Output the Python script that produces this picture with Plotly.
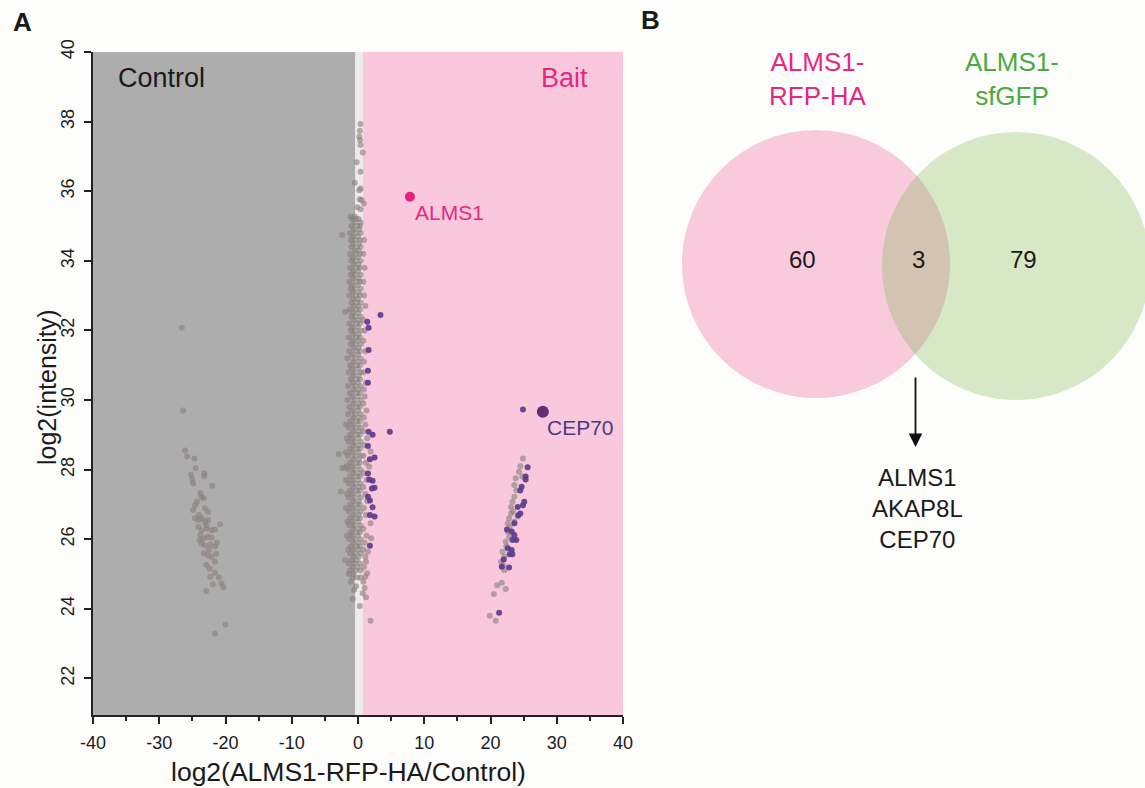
import numpy as np
import plotly.graph_objects as go

W, H = 1145, 788
FONT = "Liberation Sans, Arial, sans-serif"

# ---------------- Panel A data ----------------
# control-only proteins (left cluster)
left_points = [
    (-26.6, 32.08), (-26.4, 29.70), (-26.1, 28.55), (-25.8, 28.38), (-24.7, 28.32), (-24.5, 28.04),
    (-23.2, 27.89), (-23.2, 27.82), (-25.2, 27.85), (-25.0, 27.72), (-24.9, 27.60), (-22.0, 27.54),
    (-23.8, 27.33), (-23.6, 27.22), (-24.3, 27.08), (-24.6, 26.98), (-24.9, 26.84), (-23.3, 27.18),
    (-23.1, 26.89), (-22.6, 26.79), (-24.6, 26.60), (-24.1, 26.55), (-23.6, 26.60), (-23.1, 26.50),
    (-22.6, 26.55), (-20.8, 26.43), (-24.1, 26.36), (-23.6, 26.26), (-22.8, 26.31), (-22.1, 26.26),
    (-21.6, 26.28), (-23.8, 26.12), (-23.3, 26.03), (-22.7, 26.07), (-22.1, 26.05), (-21.3, 25.90),
    (-23.6, 25.88), (-23.1, 25.82), (-22.3, 25.85), (-21.6, 25.79), (-23.3, 25.60), (-22.7, 25.55),
    (-22.1, 25.50), (-21.4, 25.58), (-22.9, 25.26), (-22.4, 25.16), (-21.6, 25.35), (-21.6, 25.04),
    (-21.0, 24.91), (-22.3, 24.92), (-21.9, 24.71), (-20.6, 24.73), (-20.3, 24.62), (-22.9, 24.51),
    (-20.0, 23.55), (-21.6, 23.29), (-24.0, 26.70), (-22.9, 26.40), (-23.9, 25.98), (-22.5, 25.70),
]

# proteins found in both (middle cluster)
mid_points = [
    (0.38, 37.93), (0.28, 37.74), (0.20, 37.57), (0.30, 37.47), (0.38, 37.33), (0.73, 37.11),
    (-0.20, 36.83), (0.38, 36.56), (-0.48, 36.24), (0.20, 36.03), (0.38, 36.08), (0.25, 35.77),
    (0.55, 35.75), (-0.10, 35.54), (0.40, 35.48), (-1.13, 35.27), (-0.48, 35.27), (0.88, 35.65),
    (-0.9, 35.2), (0.1, 35.2), (-0.3, 35.2), (-0.5, 35.1), (0.4, 35.1), (-1.0, 35.0), (-0.1, 35.0), (0.3, 35.0),
    (-0.6, 34.9), (0.2, 34.9), (-1.2, 34.8), (-0.3, 34.8), (0.4, 34.8), (-2.4, 34.74), (-0.8, 34.7), (0.0, 34.7),
    (-1.1, 34.6), (-0.4, 34.6), (0.3, 34.6), (-0.7, 34.5), (0.2, 34.5), (-1.0, 34.4), (-0.2, 34.4), (0.4, 34.4),
    (-0.5, 34.3), (0.1, 34.3), (-1.2, 34.2), (-0.3, 34.2), (0.3, 34.2), (-0.8, 34.1), (0.0, 34.1),
    (-1.0, 34.0), (-0.3, 34.0), (0.4, 34.0), (-0.6, 33.9), (0.1, 33.9), (-1.2, 33.8), (-0.2, 33.8), (0.3, 33.8),
    (-0.8, 33.7), (0.0, 33.7), (-1.1, 33.6), (-0.4, 33.6), (0.4, 33.6), (-0.7, 33.5), (0.1, 33.5),
    (-1.3, 33.4), (-0.2, 33.4), (0.3, 33.4), (-0.9, 33.3), (0.0, 33.3), (-0.5, 33.2), (0.4, 33.2), (-1.1, 33.2),
    (-0.8, 33.1), (0.1, 33.1), (-1.3, 33.0), (-0.3, 33.0), (0.3, 33.0), (-0.7, 32.9), (0.0, 32.9),
    (-1.0, 32.8), (-0.2, 32.8), (0.4, 32.8), (-0.6, 32.7), (0.1, 32.7), (-1.9, 32.54),
    (-1.2, 32.6), (-0.3, 32.6), (0.3, 32.6), (-0.8, 32.5), (0.0, 32.5), (-1.0, 32.4), (-0.4, 32.4), (0.4, 32.4),
    (-0.6, 32.3), (0.1, 32.3), (-1.3, 32.2), (-0.2, 32.2), (0.3, 32.2), (-0.9, 32.1), (0.0, 32.1),
    (-1.1, 32.0), (-0.4, 32.0), (0.4, 32.0), (-0.7, 31.9), (0.1, 31.9), (-1.4, 31.8), (-0.2, 31.8), (0.3, 31.8),
    (-0.8, 31.7), (0.0, 31.7), (-1.1, 31.6), (-0.4, 31.6), (0.4, 31.6), (-0.6, 31.5), (0.1, 31.5),
    (-1.3, 31.4), (-0.2, 31.4), (0.3, 31.4), (-0.9, 31.3), (0.0, 31.3), (-1.6, 31.2), (-0.4, 31.2), (0.4, 31.2),
    (-0.7, 31.1), (0.1, 31.1), (-1.2, 31.0), (-0.2, 31.0), (0.3, 31.0), (-0.9, 30.9), (0.0, 30.9),
    (-1.4, 30.8), (-0.5, 30.8), (0.4, 30.8), (-0.7, 30.7), (0.1, 30.7), (-1.1, 30.6), (-0.2, 30.6), (0.3, 30.6),
    (-0.8, 30.5), (0.0, 30.5), (-1.5, 30.4), (-0.4, 30.4), (0.4, 30.4), (-0.6, 30.3), (0.1, 30.3),
    (-1.2, 30.2), (-0.2, 30.2), (0.3, 30.2), (-0.9, 30.1), (0.0, 30.1), (-1.6, 30.0), (-0.5, 30.0), (0.4, 30.0),
    (-0.7, 29.9), (0.1, 29.9), (-1.3, 29.8), (-0.2, 29.8), (0.3, 29.8), (-0.9, 29.7), (0.0, 29.7),
    (-1.5, 29.6), (-0.4, 29.6), (0.4, 29.6), (-0.7, 29.5), (0.1, 29.5), (-1.2, 29.4), (-0.2, 29.4), (0.3, 29.4),
    (-1.8, 29.3), (-0.9, 29.3), (0.0, 29.3), (-1.4, 29.2), (-0.4, 29.2), (0.4, 29.2), (-0.7, 29.1), (0.1, 29.1),
    (-1.2, 29.0), (-0.2, 29.0), (0.3, 29.0), (-1.7, 28.9), (-0.9, 28.9), (0.0, 28.9),
    (-1.4, 28.8), (-0.5, 28.8), (0.4, 28.8), (-0.7, 28.7), (0.1, 28.7), (-1.2, 28.6), (-0.2, 28.6), (0.3, 28.6),
    (-2.9, 28.45), (-1.9, 28.5), (-0.9, 28.5), (0.0, 28.5), (-1.5, 28.4), (-0.4, 28.4), (0.4, 28.4),
    (-0.7, 28.3), (0.1, 28.3), (-1.2, 28.2), (-0.2, 28.2), (0.3, 28.2), (-2.4, 28.05), (-2.0, 28.05),
    (-1.7, 28.1), (-0.9, 28.1), (0.0, 28.1), (-1.4, 28.0), (-0.5, 28.0), (0.4, 28.0), (-0.7, 27.9), (0.1, 27.9),
    (-1.2, 27.8), (-0.2, 27.8), (0.3, 27.8), (-1.8, 27.7), (-0.9, 27.7), (0.0, 27.7),
    (-1.4, 27.6), (-0.4, 27.6), (0.4, 27.6), (-0.7, 27.5), (0.1, 27.5), (-2.6, 27.37),
    (-1.2, 27.4), (-0.2, 27.4), (0.3, 27.4), (-1.7, 27.3), (-0.9, 27.3), (0.0, 27.3),
    (-1.4, 27.2), (-0.5, 27.2), (0.4, 27.2), (-0.7, 27.1), (0.1, 27.1), (-1.2, 27.0), (-0.2, 27.0), (0.3, 27.0),
    (-1.8, 26.9), (-0.9, 26.9), (0.0, 26.9), (-1.4, 26.8), (-0.4, 26.8), (0.4, 26.8), (-0.7, 26.7), (0.1, 26.7),
    (-1.2, 26.6), (-0.2, 26.6), (0.3, 26.6), (-1.6, 26.5), (-0.9, 26.5), (0.0, 26.5),
    (-1.3, 26.4), (-0.5, 26.4), (0.4, 26.4), (-0.7, 26.3), (0.1, 26.3), (-1.1, 26.2), (-0.2, 26.2), (0.3, 26.2),
    (-1.7, 26.1), (-0.9, 26.1), (0.0, 26.1), (-1.3, 26.0), (-0.4, 26.0), (0.4, 26.0), (-0.7, 25.9), (0.1, 25.9),
    (-1.1, 25.8), (-0.2, 25.8), (0.3, 25.8), (-1.5, 25.7), (-0.8, 25.7), (0.0, 25.7),
    (-1.2, 25.6), (-0.4, 25.6), (0.4, 25.6), (-0.6, 25.5), (0.1, 25.5), (-1.9, 25.4), (-1.0, 25.4), (-0.2, 25.4),
    (-1.4, 25.3), (-0.5, 25.3), (0.3, 25.3), (-0.8, 25.2), (0.0, 25.2), (-1.2, 25.1), (-0.3, 25.1), (0.4, 25.1),
    (-1.4, 25.0), (-0.7, 25.0), (-0.8, 24.9), (0.4, 24.9), (-0.1, 24.9), (-1.1, 24.78), (-0.3, 24.65),
    (-0.6, 24.54), (-0.8, 24.28), (0.27, 24.08),
    # band just right of zero (appears mauve over pink)
    (0.9, 34.6), (0.8, 34.2), (1.0, 33.8), (0.8, 33.4), (0.9, 33.0), (1.1, 32.7), (0.8, 32.3), (1.0, 32.0),
    (0.8, 31.7), (1.1, 31.4), (0.9, 31.1), (0.8, 30.8), (1.2, 30.5), (0.9, 30.3), (1.0, 30.1), (0.8, 29.9),
    (1.3, 29.7), (0.9, 29.5), (1.1, 29.3), (0.8, 29.1), (1.4, 28.9), (1.0, 28.7), (1.9, 28.52), (0.8, 28.4),
    (1.2, 28.2), (1.7, 28.08), (0.9, 27.9), (1.3, 27.7), (0.8, 27.5), (1.1, 27.3), (1.4, 27.1), (0.9, 26.9),
    (1.2, 26.7), (1.9, 26.46), (0.8, 26.3), (1.3, 26.1), (2.0, 26.03), (1.0, 25.9), (0.8, 25.7), (1.5, 25.64),
    (1.1, 25.5), (1.2, 25.35), (0.9, 25.2), (1.4, 25.02), (1.1, 24.92), (0.8, 24.78), (1.0, 24.6), (1.2, 24.33),
    (1.9, 23.66), (0.7, 24.45),
]

# bait-only proteins, not significant (right cluster)
right_gray_points = [
    (24.9, 28.32), (24.3, 27.94), (23.8, 27.75), (23.6, 27.56), (24.8, 27.80), (23.6, 27.22), (23.3, 27.08),
    (23.1, 26.93), (23.1, 26.74), (22.8, 26.60), (22.6, 26.46), (23.6, 26.50), (24.1, 26.65), (22.6, 26.22),
    (22.8, 26.07), (22.3, 25.93), (21.8, 25.64), (22.1, 25.50), (21.6, 25.35), (22.1, 25.11), (21.0, 24.68),
    (21.7, 24.75), (22.3, 24.57), (20.5, 24.43), (19.9, 23.80), (20.8, 23.66), (23.9, 27.40), (23.4, 26.80),
    (22.9, 26.35), (22.4, 25.80), (21.9, 25.25), (24.5, 28.10),
]

# significant hits (purple)
purple_points = [
    (3.4, 32.44), (1.4, 32.25), (1.6, 32.08), (1.6, 31.44), (1.5, 30.84), (1.5, 30.50), (4.8, 29.09),
    (1.6, 29.09), (2.2, 29.00), (1.5, 28.68), (1.8, 28.30), (2.5, 28.35), (1.5, 27.89), (1.7, 27.72),
    (2.2, 27.68), (2.1, 27.46), (2.5, 27.48), (1.5, 27.22), (1.8, 27.11), (2.2, 26.92), (1.8, 26.70),
    (2.5, 26.65), (1.8, 25.81),
    (24.9, 29.73),
    (25.6, 28.07), (25.3, 27.80), (25.3, 27.72), (24.7, 27.51), (24.5, 27.40), (25.1, 27.08), (24.9, 26.98),
    (24.1, 26.93), (24.5, 26.74), (24.2, 26.69), (23.6, 26.46), (22.5, 26.28), (23.2, 26.22), (23.6, 26.12),
    (23.3, 25.98), (23.9, 25.98), (22.6, 25.74), (23.2, 25.69), (22.9, 25.57), (23.3, 25.57), (22.0, 25.42),
    (21.7, 25.21), (22.8, 25.19), (21.3, 23.89),
]

alms1_point = (7.84, 35.84)
cep70_point = (27.9, 29.66)

x_ticks = [-40, -30, -20, -10, 0, 10, 20, 30, 40]
x_tick_labels = ["-40", "-30", "-20", "-10", "0", "10", "20", "30", "40"]
y_ticks = [22, 24, 26, 28, 30, 32, 34, 36, 38, 40]

# ---------------- Panel B data ----------------
venn_sets = ["ALMS1-<br>RFP-HA", "ALMS1-<br>sfGFP"]
venn_counts = [60, 3, 79]
shared_genes = ["ALMS1", "AKAP8L", "CEP70"]

# ---------------- colours ----------------
BG = "#FDFDFB"
PINK_BG = "#F9C8DC"
GRAY_BG = "#ADADAD"
STRIP = "#ECECEC"
PINK_TXT = "#E6297F"
GREEN_TXT = "#4BAA3E"
PURPLE = "#5B3C8C"
INK = "#1a1a1a"


def px(X):
    """window pixel x -> paper fraction"""
    return X / W


def py(Y):
    """window pixel y -> paper fraction"""
    return 1 - Y / H


fig = go.Figure()

gx, gy = zip(*(left_points + mid_points + right_gray_points))
fig.add_trace(go.Scatter(x=gx, y=gy, mode="markers",
                         marker=dict(size=6, color="rgb(138,128,126)", opacity=0.62, line=dict(width=0)),
                         hoverinfo="skip", showlegend=False))
ppx, ppy = zip(*purple_points)
fig.add_trace(go.Scatter(x=ppx, y=ppy, mode="markers",
                         marker=dict(size=6, color=PURPLE, opacity=0.92, line=dict(width=0)),
                         hoverinfo="skip", showlegend=False))
fig.add_trace(go.Scatter(x=[alms1_point[0]], y=[alms1_point[1]], mode="markers",
                         marker=dict(size=10, color="#E5217C", line=dict(width=0)),
                         hoverinfo="skip", showlegend=False))
fig.add_trace(go.Scatter(x=[cep70_point[0]], y=[cep70_point[1]], mode="markers",
                         marker=dict(size=12, color="#692A78", line=dict(width=0)),
                         hoverinfo="skip", showlegend=False))
# invisible anchor trace for panel B axes (pixel-coordinate canvas)
fig.add_trace(go.Scatter(x=[700], y=[700], xaxis="x2", yaxis="y2", mode="markers",
                         marker=dict(size=1, opacity=0), hoverinfo="skip", showlegend=False))

shapes = [
    dict(type="rect", xref="x", yref="y domain", x0=0.7, x1=40, y0=0, y1=1,
         fillcolor=PINK_BG, line=dict(width=0), layer="below"),
    dict(type="rect", xref="x", yref="y domain", x0=-40, x1=-0.4, y0=0, y1=1,
         fillcolor=GRAY_BG, line=dict(width=0), layer="below"),
    dict(type="rect", xref="x", yref="y domain", x0=-0.4, x1=0.7, y0=0, y1=1,
         fillcolor=STRIP, line=dict(width=0), layer="below"),
]

# Venn circles (window-pixel coordinates on hidden axes)
c1 = np.array([816.0, 264.0])
c2 = np.array([1016.0, 266.0])
r = 134.0
shapes.append(dict(type="circle", xref="x2", yref="y2", x0=c1[0] - r, x1=c1[0] + r,
                   y0=c1[1] - r, y1=c1[1] + r, fillcolor="#F9C9DC", line=dict(width=0)))
shapes.append(dict(type="circle", xref="x2", yref="y2", x0=c2[0] - r, x1=c2[0] + r,
                   y0=c2[1] - r, y1=c2[1] + r, fillcolor="#D6E8C6", line=dict(width=0)))
d = c2 - c1
dist = np.linalg.norm(d)
base = np.arctan2(d[1], d[0])
theta = np.arccos(dist / 2 / r)
t1 = np.linspace(base - theta, base + theta, 60)
t2 = np.linspace(base + np.pi - theta, base + np.pi + theta, 60)
pts = [(c1[0] + r * np.cos(t), c1[1] + r * np.sin(t)) for t in t1] + \
      [(c2[0] + r * np.cos(t), c2[1] + r * np.sin(t)) for t in t2]
path = "M " + " L ".join(f"{a:.2f},{b:.2f}" for a, b in pts) + " Z"
shapes.append(dict(type="path", xref="x2", yref="y2", path=path,
                   fillcolor="#D3C3B3", line=dict(width=0)))


def paper_text(text, X, Y, size, color=INK, xanchor="center", angle=0):
    return dict(text=text, x=px(X), y=py(Y), xref="paper", yref="paper", xanchor=xanchor,
                yanchor="middle", textangle=angle, showarrow=False,
                font=dict(size=size, color=color, family=FONT))


def canvas_text(text, X, Y, size, color=INK):
    return dict(text=text, x=X, y=Y, xref="x2", yref="y2", xanchor="center", yanchor="middle",
                showarrow=False, align="center", font=dict(size=size, color=color, family=FONT))


ann = [
    paper_text("<b>A</b>", 22, 22, 26),
    paper_text("<b>B</b>", 650, 20, 26),
    paper_text("Control", 116, 78, 27, xanchor="left"),
    paper_text("Bait", 564, 78, 27, color=PINK_TXT),
    paper_text("log2(ALMS1-RFP-HA/Control)", 348, 772, 26.5),
    paper_text("log2(intensity)", 47, 387, 25, angle=-90),
    dict(text="ALMS1", x=8.3, y=35.4, xref="x", yref="y", xanchor="left", yanchor="middle",
         showarrow=False, font=dict(size=21, color=PINK_TXT, family=FONT)),
    dict(text="CEP70", x=28.3, y=29.2, xref="x", yref="y", xanchor="left", yanchor="middle",
         showarrow=False, font=dict(size=21, color="#4A3A86", family=FONT)),
    canvas_text(venn_sets[0], 817, 79, 26, PINK_TXT),
    canvas_text(venn_sets[1], 1012, 79, 26, GREEN_TXT),
]
for xx, cnt in zip([802, 918, 1023], venn_counts):
    ann.append(canvas_text(str(cnt), xx, 259, 24))
ann.append(dict(text="", x=915.5, y=447, ax=915.5, ay=376, xref="x2", yref="y2", axref="x2", ayref="y2",
                showarrow=True, arrowhead=2, arrowsize=1.5, arrowwidth=1.8, arrowcolor="#111111"))
ann.append(canvas_text("<br>".join(shared_genes), 917, 508, 24))

axis_common = dict(ticks="outside", ticklen=7, tickwidth=1.5, tickcolor="#222", showline=True,
                   linecolor="#222", linewidth=1.5, showgrid=False, zeroline=False,
                   tickfont=dict(size=18, family=FONT, color=INK), fixedrange=True, automargin=False)

fig.update_layout(
    width=W, height=H, autosize=False,
    margin=dict(l=0, r=0, t=0, b=0, pad=0, autoexpand=False),
    paper_bgcolor=BG,
    plot_bgcolor="rgba(0,0,0,0)",
    showlegend=False,
    font=dict(family=FONT, color=INK),
    shapes=shapes,
    annotations=ann,
    xaxis=dict(domain=[px(93), px(623)], range=[-40, 40], tickvals=x_ticks, ticktext=x_tick_labels,
               anchor="y", ticklabelstandoff=4,
               minor=dict(dtick=5, tick0=-40, ticks="outside", ticklen=4, tickwidth=1.5, tickcolor="#222",
                          showgrid=False),
               **axis_common),
    yaxis=dict(domain=[py(715), py(52)], range=[20.95, 40], tickvals=y_ticks, tickangle=-90, anchor="x",
               ticklabelstandoff=3, **axis_common),
    xaxis2=dict(domain=[px(640), 1], range=[640, W], visible=False, anchor="y2", fixedrange=True),
    yaxis2=dict(domain=[0, 1], range=[H, 0], visible=False, anchor="x2", fixedrange=True),
)

fig.write_html(
    "out.html",
    config={"displayModeBar": False},
    post_script="document.body.style.margin='0';document.body.style.overflow='hidden';"
                "document.documentElement.style.overflow='hidden';",
)
